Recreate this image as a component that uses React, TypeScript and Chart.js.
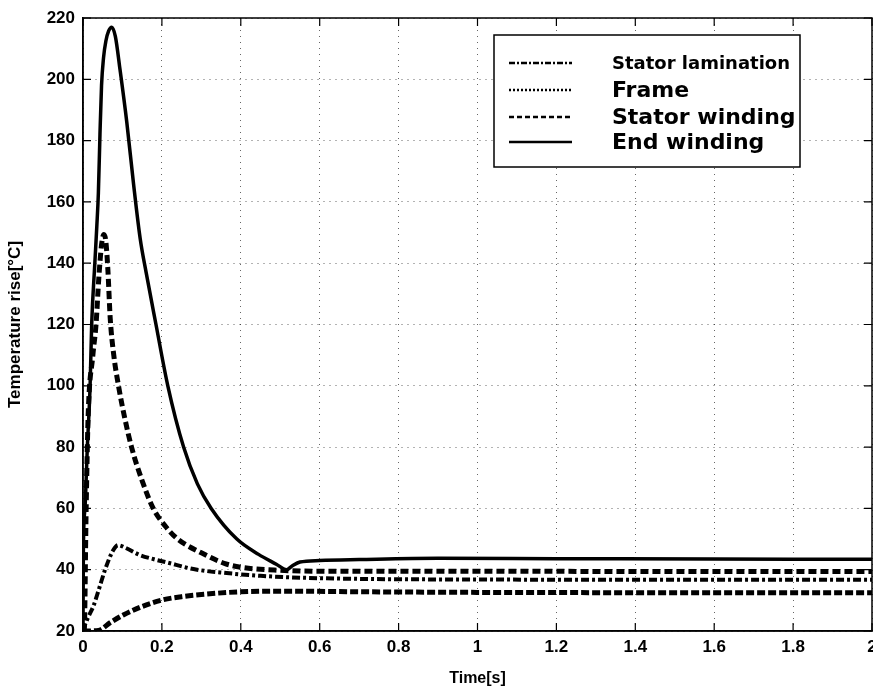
import React, { useEffect, useRef } from "react";
import { Chart, registerables } from "chart.js";

Chart.register(...registerables);

// Time axis ticks / value axis ticks
const xTicks = [0, 0.2, 0.4, 0.6, 0.8, 1, 1.2, 1.4, 1.6, 1.8, 2];
const yTicks = [20, 40, 60, 80, 100, 120, 140, 160, 180, 200, 220];

// Stator lamination (dash-dot)
const lamT = [0, 0.005, 0.015, 0.026, 0.04, 0.056, 0.075, 0.089, 0.11, 0.144, 0.18, 0.212, 0.28, 0.364, 0.45, 0.55, 0.7, 1.0, 1.5, 2.0];
const lamV = [20, 22, 25, 28, 33.5, 40, 46, 48, 47, 44.8, 43.4, 42.4, 40.2, 38.9, 38.0, 37.4, 37.0, 36.8, 36.7, 36.7];

// Frame (dotted / short dashes)
const frameT = [0, 0.039, 0.07, 0.102, 0.15, 0.2, 0.25, 0.3, 0.4, 0.5, 0.7, 1.0, 1.5, 2.0];
const frameV = [20, 20.2, 22.8, 25.2, 28, 30.1, 31.2, 31.9, 32.8, 33.0, 32.8, 32.6, 32.5, 32.5];

// Stator winding (dashed)
const swT = [0, 0.003, 0.008, 0.013, 0.025, 0.033, 0.04, 0.047, 0.053, 0.058, 0.063, 0.069, 0.078, 0.09, 0.105, 0.123, 0.15, 0.178, 0.21, 0.24, 0.3, 0.36, 0.4, 0.5, 0.6, 1.0, 1.5, 2.0];
const swV = [20, 20, 60, 90, 110, 120, 135, 146, 149.4, 147, 138, 122, 110, 100, 90, 80, 69, 60, 54, 50, 45.5, 42, 40.8, 39.8, 39.5, 39.5, 39.4, 39.4];

// End winding (solid)
const ewT = [0, 0.001, 0.005, 0.011, 0.018, 0.022, 0.03, 0.035, 0.039, 0.043, 0.047, 0.052, 0.058, 0.065, 0.073, 0.082, 0.094, 0.111, 0.128, 0.145, 0.16, 0.185, 0.215, 0.255, 0.29, 0.325, 0.39, 0.445, 0.49, 0.516, 0.53, 0.55, 0.6, 0.7, 0.9, 1.2, 1.6, 2.0];
const ewV = [20, 47, 60, 80, 100, 120, 140, 152, 163, 182, 198, 207, 212.5, 215.8, 217, 214, 203, 186, 166, 148, 137, 120, 100, 80, 68, 60, 50, 45, 41.8, 40, 41.2, 42.5, 43, 43.3, 43.7, 43.6, 43.5, 43.4];

const seriesNames = ["Stator lamination", "Frame", "Stator winding", "End winding"];

const toPoints = (t: number[], v: number[]) => t.map((x, i) => ({ x, y: v[i] }));

const legendSamples = [
  { dash: [6, 2, 2, 2], font: "bold 18px 'DejaVu Sans'" },
  { dash: [2, 2], font: "bold 22px 'DejaVu Sans'" },
  { dash: [5, 3], font: "bold 22px 'DejaVu Sans'" },
  { dash: [], font: "bold 22px 'DejaVu Sans'" },
];

const framePlugin = {
  id: "frameTicksLegend",
  afterDraw(chart: any) {
    const { ctx, chartArea } = chart;
    const { left, right, top, bottom } = chartArea;
    const xs = chart.scales.x;
    const ys = chart.scales.y;
    ctx.save();
    ctx.strokeStyle = "#000";
    ctx.lineWidth = 1.5;
    ctx.setLineDash([]);
    ctx.strokeRect(left, top, right - left, bottom - top);
    ctx.lineWidth = 1.2;
    xTicks.forEach((v) => {
      const px = xs.getPixelForValue(v);
      ctx.beginPath();
      ctx.moveTo(px, bottom);
      ctx.lineTo(px, bottom - 8);
      ctx.moveTo(px, top);
      ctx.lineTo(px, top + 8);
      ctx.stroke();
    });
    yTicks.forEach((v) => {
      const py = ys.getPixelForValue(v);
      ctx.beginPath();
      ctx.moveTo(left, py);
      ctx.lineTo(left + 8, py);
      ctx.moveTo(right, py);
      ctx.lineTo(right - 8, py);
      ctx.stroke();
    });

    // legend box
    const bx = 494, by = 35, bw = 306, bh = 132;
    ctx.fillStyle = "#fff";
    ctx.fillRect(bx, by, bw, bh);
    ctx.lineWidth = 1.5;
    ctx.strokeRect(bx, by, bw, bh);
    const rows = [63, 90, 117, 142];
    chart.data.datasets.forEach((ds: any, i: number) => {
      const y = rows[i];
      ctx.strokeStyle = "#000";
      ctx.lineWidth = 2.5;
      ctx.setLineDash(legendSamples[i].dash);
      ctx.beginPath();
      ctx.moveTo(509, y);
      ctx.lineTo(572, y);
      ctx.stroke();
      ctx.setLineDash([]);
      ctx.fillStyle = "#000";
      ctx.font = legendSamples[i].font;
      ctx.textBaseline = "middle";
      ctx.textAlign = "left";
      ctx.fillText(ds.label, 612, y + 1);
    });
    ctx.restore();
  },
};

export default function App() {
  const canvasRef = useRef<HTMLCanvasElement | null>(null);

  useEffect(() => {
    if (!canvasRef.current) return;
    const tickFont = { family: "'Liberation Sans', Arial, sans-serif", size: 17, weight: "bold" as const };
    const chart = new Chart(canvasRef.current, {
      type: "line",
      data: {
        datasets: [
          {
            label: seriesNames[0],
            data: toPoints(lamT, lamV),
            borderColor: "#000",
            borderWidth: 4,
            borderDash: [8, 3, 3, 3],
            pointRadius: 0,
            cubicInterpolationMode: "monotone",
            fill: false,
          },
          {
            label: seriesNames[1],
            data: toPoints(frameT, frameV),
            borderColor: "#000",
            borderWidth: 5,
            borderDash: [8, 3],
            pointRadius: 0,
            cubicInterpolationMode: "monotone",
            fill: false,
          },
          {
            label: seriesNames[2],
            data: toPoints(swT, swV),
            borderColor: "#000",
            borderWidth: 5,
            borderDash: [8, 4],
            pointRadius: 0,
            cubicInterpolationMode: "monotone",
            fill: false,
          },
          {
            label: seriesNames[3],
            data: toPoints(ewT, ewV),
            borderColor: "#000",
            borderWidth: 3.5,
            pointRadius: 0,
            cubicInterpolationMode: "monotone",
            fill: false,
          },
        ],
      },
      options: {
        animation: false,
        responsive: false,
        devicePixelRatio: 1,
        layout: { padding: { top: 18, right: 1, left: 0, bottom: 0 } },
        plugins: { legend: { display: false }, tooltip: { enabled: false } },
        scales: {
          x: {
            type: "linear",
            min: 0,
            max: 2,
            afterBuildTicks: (s: any) => {
              s.ticks = xTicks.map((v) => ({ value: v }));
            },
            afterFit: (s: any) => {
              s.height = 60;
              s.paddingLeft = 0;
              s.paddingRight = 0;
            },
            ticks: {
              color: "#000",
              font: tickFont,
              padding: 6,
              maxRotation: 0,
              autoSkip: false,
              callback: (v: any) => String(Math.round(Number(v) * 10) / 10),
            },
            grid: { color: "rgba(0,0,0,0.6)", lineWidth: 1, drawTicks: false },
            border: { display: true, color: "#000", width: 1.5, dash: [1, 5] },
            title: {
              display: true,
              text: "Time[s]",
              color: "#000",
              font: { family: "'Liberation Sans', Arial, sans-serif", size: 16, weight: "bold" },
              padding: { top: 0, bottom: 3 },
            },
          },
          y: {
            type: "linear",
            min: 20,
            max: 220,
            afterBuildTicks: (s: any) => {
              s.ticks = yTicks.map((v) => ({ value: v }));
            },
            afterFit: (s: any) => {
              s.width = 83;
              s.paddingTop = 0;
              s.paddingBottom = 0;
            },
            ticks: { color: "#000", font: tickFont, padding: 8, autoSkip: false },
            grid: { color: "rgba(0,0,0,0.6)", lineWidth: 1, drawTicks: false },
            border: { display: true, color: "#000", width: 1.5, dash: [1, 5] },
            title: {
              display: true,
              text: "Temperature rise[°C]",
              color: "#000",
              font: { family: "'Liberation Sans', Arial, sans-serif", size: 17, weight: "bold" },
              padding: { top: 5, bottom: 0 },
            },
          },
        },
      },
      plugins: [framePlugin],
    });
    return () => chart.destroy();
  }, []);

  return (
    <div style={{ position: "absolute", left: 0, top: 0, width: 873, height: 691, background: "#fff" }}>
      <canvas ref={canvasRef} width={873} height={691} style={{ display: "block" }} />
    </div>
  );
}
